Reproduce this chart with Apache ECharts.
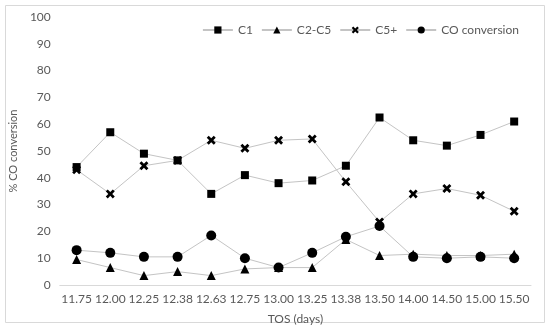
<!DOCTYPE html>
<html><head><meta charset="utf-8">
<script src="https://cdn.jsdelivr.net/npm/echarts@6/dist/echarts.min.js"></script>
<style>html,body{margin:0;padding:0;background:#fff}#c{width:550px;height:330px}</style>
</head><body><div id="c"></div>
<script>
var categories = ['11.75','12.00','12.25','12.38','12.63','12.75','13.00','13.25','13.38','13.50','14.00','14.50','15.00','15.50'];
var c1 = [44, 57, 49, 46.5, 34, 41, 38, 39, 44.5, 62.5, 54, 52, 56, 61];
var c2c5 = [9.5, 6.5, 3.5, 5, 3.5, 6, 6.5, 6.5, 17, 11, 11.5, 11, 11, 11.5];
var c5plus = [43, 34, 44.5, 46.5, 54, 51, 54, 54.5, 38.5, 23.5, 34, 36, 33.5, 27.5];
var coConv = [13, 12, 10.5, 10.5, 18.5, 10, 6.5, 12, 18, 22, 10.5, 10, 10.5, 10];
var yTicks = [0, 100, 10];

var font = 'Lato';
var crossPath = 'path://M0,2.2 L2.2,0 L5,2.8 L7.8,0 L10,2.2 L7.2,5 L10,7.8 L7.8,10 L5,7.2 L2.2,10 L0,7.8 L2.8,5 Z';
function mk(name, data, symbol, size) {
  return {
    name: name, type: 'line', data: data, symbol: symbol, symbolSize: size,
    showAllSymbol: true,
    lineStyle: { color: '#c4c4c4', width: 1 },
    itemStyle: { color: '#000' },
    emphasis: { disabled: true }
  };
}
var chart = echarts.init(document.getElementById('c'), null, { renderer: 'canvas' });
chart.setOption({
  animation: false,
  backgroundColor: '#fff',
  textStyle: { fontFamily: font },
  graphic: [{ type: 'rect', shape: { x: 5.5, y: 5.5, width: 539, height: 317 }, style: { fill: 'none', stroke: '#d9d9d9', lineWidth: 1 }, z: -1 }],
  legend: {
    right: 26, top: 19, itemWidth: 30, itemHeight: 9, itemGap: 8,
    textStyle: { color: '#595959', fontSize: 12, fontFamily: font },
    data: ['C1', 'C2-C5', 'C5+', 'CO conversion']
  },
  grid: { left: 51, right: 19, top: 17, bottom: 45 },
  xAxis: {
    type: 'category', data: categories, boundaryGap: true,
    name: 'TOS (days)', nameLocation: 'middle', nameGap: 28,
    nameTextStyle: { color: '#595959', fontSize: 12 },
    axisLine: { lineStyle: { color: '#d9d9d9' } },
    axisTick: { show: false },
    axisLabel: { color: '#595959', fontSize: 12, margin: 8, interval: 0 }
  },
  yAxis: {
    type: 'value', min: yTicks[0], max: yTicks[1], interval: yTicks[2],
    name: '% CO conversion', nameLocation: 'middle', nameGap: 33, nameRotate: 90,
    nameTextStyle: { color: '#595959', fontSize: 11 },
    axisLine: { show: false }, axisTick: { show: false }, splitLine: { show: false },
    axisLabel: { color: '#595959', fontSize: 12, margin: 9 }
  },
  series: [
    mk('C1', c1, 'rect', 8),
    mk('C2-C5', c2c5, 'triangle', 9),
    mk('C5+', c5plus, crossPath, 9),
    mk('CO conversion', coConv, 'circle', 10)
  ]
});
</script></body></html>
